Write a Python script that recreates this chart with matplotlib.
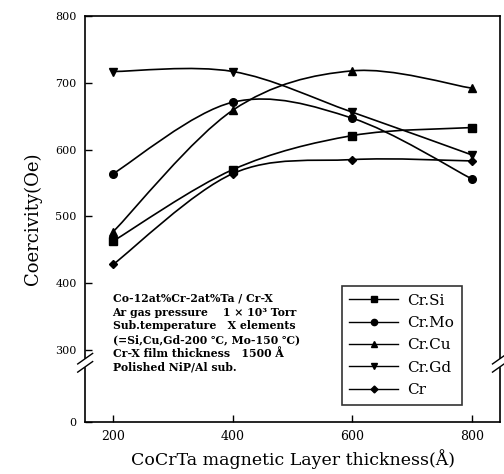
import numpy as np
import matplotlib
matplotlib.use("Agg")
import matplotlib.pyplot as plt
from matplotlib.path import Path
from matplotlib.patches import PathPatch
from matplotlib.lines import Line2D
from matplotlib.transforms import blended_transform_factory

# data
thickness = [200, 400, 600, 800]
cr_si = [463, 570, 621, 633]
cr_mo = [564, 671, 647, 556]
cr_cu = [477, 659, 718, 692]
cr_gd = [717, 717, 656, 592]
cr = [428, 564, 585, 583]

series_names = ["Cr.Si", "Cr.Mo", "Cr.Cu", "Cr.Gd", "Cr"]
series_values = [cr_si, cr_mo, cr_cu, cr_gd, cr]
series_markers = ["s", "o", "^", "v", "D"]

y_ticks = [0, 300, 400, 500, 600, 700, 800]
x_ticks = [200, 400, 600, 800]

note_lines = [
    "Co-12at%Cr-2at%Ta / Cr-X",
    "Ar gas pressure    1 \u00d7 10\u00b3 Torr",
    "Sub.temperature   X elements",
    "(=Si,Cu,Gd-200 \u2103, Mo-150 \u2103)",
    "Cr-X film thickness   1500 \u00c5",
    "Polished NiP/Al sub.",
]

# broken axis: 0..300 squeezed
BREAK = 300.0
SQUEEZE = 108.0 / 300.0


def fwd(v):
    v = np.asarray(v, dtype=float)
    return np.where(v >= BREAK, v, BREAK - (BREAK - v) * SQUEEZE)


def inv(u):
    u = np.asarray(u, dtype=float)
    return np.where(u >= BREAK, u, BREAK - (BREAK - u) / SQUEEZE)


def smooth_path(xs, ys):
    # catmull-rom through the points, as cubic bezier segments
    pts = np.column_stack([xs, ys]).astype(float)
    verts = [pts[0]]
    codes = [Path.MOVETO]
    n = len(pts)
    for i in range(n - 1):
        p0 = pts[i - 1] if i > 0 else pts[i]
        p1 = pts[i]
        p2 = pts[i + 1]
        p3 = pts[i + 2] if i + 2 < n else pts[i + 1]
        c1 = p1 + (p2 - p0) / 6.0
        c2 = p2 - (p3 - p1) / 6.0
        verts += [c1, c2, p2]
        codes += [Path.CURVE4] * 3
    return Path(verts, codes)


serif = ["DejaVu Serif"]

fig = plt.figure(figsize=(5.04, 4.74), dpi=100)
ax = fig.add_axes([0.169, 0.110, 0.823, 0.856])
ax.set_yscale("function", functions=(fwd, inv))
ax.set_xlim(153, 847)
ax.set_ylim(0, 800)

handles = []
for name, vals, mk in zip(series_names, series_values, series_markers):
    ax.add_patch(PathPatch(smooth_path(thickness, vals), facecolor="none",
                           edgecolor="black", lw=1.2))
    ms = 4.5 if mk == "D" else 5.5
    ax.plot(thickness, vals, linestyle="none", marker=mk, color="black",
            markersize=ms)
    handles.append(Line2D([], [], color="black", lw=1.0, marker=mk,
                          markersize=ms - 1, label=name))

ax.set_yticks(y_ticks)
ax.set_yticklabels([str(t) for t in y_ticks], fontfamily=serif, fontsize=8)
ax.set_xticks(x_ticks)
ax.set_xticklabels([str(t) for t in x_ticks], fontfamily=serif, fontsize=9)
ax.tick_params(direction="in", length=5, width=1, pad=6)
ax.yaxis.set_minor_locator(plt.NullLocator())

ax.set_xlabel("CoCrTa magnetic Layer thickness(\u00c5)", fontfamily=serif,
              fontsize=12.5, labelpad=4)
ax.set_ylabel("Coercivity(Oe)", fontfamily=serif, fontsize=13, labelpad=10)

for s in ax.spines.values():
    s.set_linewidth(1.2)

# gap in side spines with break marks
gap_lo, gap_hi = 225, 267
ax.spines["left"].set_bounds(gap_hi, 800)
ax.spines["right"].set_bounds(gap_hi, 800)
bt = blended_transform_factory(ax.transAxes, ax.transData)
for xa in (0.0, 1.0):
    ax.plot([xa, xa], [0, gap_lo], transform=bt, color="black", lw=1.2,
            clip_on=False)
    for yc in (gap_lo + 4, gap_hi - 4):
        ax.plot([xa - 0.018, xa + 0.018], [yc - 22, yc + 22], transform=bt,
                color="black", lw=1.0, clip_on=False)

ax.text(0.066, 0.318, "\n".join(note_lines), transform=ax.transAxes,
        fontfamily=["DejaVu Serif", "Noto Sans CJK SC", "DejaVu Sans"],
        fontweight="bold", fontsize=7.8, va="top", ha="left",
        linespacing=1.3)

leg = ax.legend(handles=handles, loc="lower right",
                bbox_to_anchor=(0.908, 0.042), borderaxespad=0,
                prop={"family": serif, "size": 11},
                frameon=True, fancybox=False, edgecolor="black",
                handlelength=3.2, borderpad=0.5, labelspacing=0.55,
                handletextpad=0.6)
leg.get_frame().set_linewidth(1.2)

fig.savefig("out.png", dpi=100)
